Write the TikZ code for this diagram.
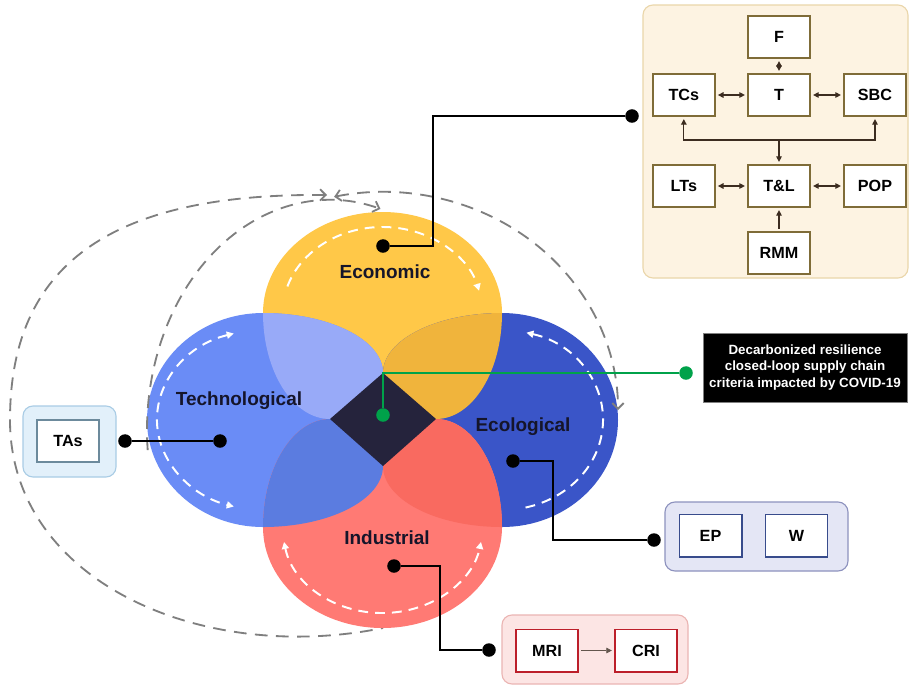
\documentclass[tikz,border=0pt]{standalone}
\usepackage{fontspec}
\setmainfont{Liberation Sans}
\usetikzlibrary{positioning, arrows.meta}

\definecolor{econcol}{HTML}{FFC848}
\definecolor{econeco}{HTML}{F0B43C}
\definecolor{techcol}{HTML}{6A8CF6}
\definecolor{techecon}{HTML}{98AAF8}
\definecolor{techind}{HTML}{5B7CE0}
\definecolor{ecocol}{HTML}{3A55C8}
\definecolor{indcol}{HTML}{FF7A74}
\definecolor{indeco}{HTML}{F96A60}
\definecolor{centrecol}{HTML}{25233C}
\definecolor{labelcol}{HTML}{15152A}
\definecolor{greenline}{HTML}{00A24A}
\definecolor{flowgrey}{HTML}{7F7F7F}
\definecolor{tanfill}{HTML}{FDF3E2}
\definecolor{tanline}{HTML}{EAD6AA}
\definecolor{tanbox}{HTML}{7F6C38}
\definecolor{tanarrow}{HTML}{3C2C20}
\definecolor{bluefill}{HTML}{E2F0FA}
\definecolor{blueline}{HTML}{A9CCE5}
\definecolor{bluebox}{HTML}{6C8A9C}
\definecolor{lilacfill}{HTML}{E4E6F5}
\definecolor{lilacline}{HTML}{8D92BE}
\definecolor{lilacbox}{HTML}{384C8C}
\definecolor{pinkfill}{HTML}{FCE5E4}
\definecolor{pinkline}{HTML}{EBB5B3}
\definecolor{pinkbox}{HTML}{BC1F2A}

% the four petals
\newcommand{\econpath}{(330,-419) arc[start angle=-90, end angle=-180, x radius=67, y radius=106] arc[start angle=180, end angle=0, x radius=119.5, y radius=101] arc[start angle=0, end angle=-90, x radius=66, y radius=106] -- cycle}
\newcommand{\techpath}{(383,-373) arc[start angle=0, end angle=90, x radius=120, y radius=60] arc[start angle=90, end angle=270, x radius=116, y radius=107] arc[start angle=270, end angle=360, x radius=120, y radius=61] -- cycle}
\newcommand{\ecopath}{(383,-373) arc[start angle=180, end angle=90, x radius=119, y radius=60] arc[start angle=90, end angle=-90, x radius=116, y radius=107] arc[start angle=-90, end angle=-180, x radius=119, y radius=61] -- cycle}
\newcommand{\indpath}{(330,-419) arc[start angle=90, end angle=180, x radius=67, y radius=108] arc[start angle=180, end angle=360, x radius=119.5, y radius=101] arc[start angle=0, end angle=90, x radius=66, y radius=108] -- cycle}

\begin{document}
\begin{tikzpicture}
    [x = 0.025cm, y = 0.025cm,
     point/.style = {circle, fill, inner sep = 3.4pt, outer sep = 0pt},
     link/.style = {line width = 1.4pt},
     petaltext/.style = {font = \bfseries\fontsize{13.5}{16}\selectfont, text = labelcol},
     critbox/.style = {draw, fill = white, line width = 1.4pt, minimum width = 1.55cm, minimum height = 1.05cm, font = \bfseries\fontsize{11.5}{13}\selectfont},
     panel/.style = {rounded corners = 0.25cm, line width = 0.8pt},
     flow/.style = {<->, >={Triangle[length=4pt, width=4pt]}, draw = tanarrow, line width = 0.8pt, shorten <= 1.5pt, shorten >= 1.5pt},
     whiteflow/.style = {draw = white, line width = 1.4pt, dash pattern = on 7pt off 5pt, >={Triangle[length=5pt, width=5pt]}},
     greyflow/.style = {draw = flowgrey, line width = 1.3pt, dash pattern = on 9pt off 6pt, >={Straight Barb[length=4pt, width=8pt]}}]
    \fill[white] (0,0) rectangle (912,-686);
    \useasboundingbox (0,0) rectangle (912,-686);

    % outer loop, behind the petals
    \draw[greyflow, <-] (327,-195) .. controls (110,-193) and (10,-265) .. (10,-420)
        .. controls (10,-580) and (200,-665) .. (383,-628);

    % petals and their overlaps
    \fill[econcol] \econpath;
    \fill[techcol] \techpath;
    \fill[ecocol] \ecopath;
    \fill[indcol] \indpath;
    \begin{scope}
        \clip \econpath;
        \fill[techecon] \techpath;
        \fill[econeco] \ecopath;
    \end{scope}
    \begin{scope}
        \clip \indpath;
        \fill[techind] \techpath;
        \fill[indeco] \ecopath;
    \end{scope}
    \fill[centrecol] (383,-373) -- (436,-419) -- (383,-466) -- (330,-419) -- cycle;

    % loops inside the petals
    \draw[whiteflow, ->] ([shift={(162:100 and 86)}]382.5,-313) arc[start angle=162, end angle=15, x radius=100, y radius=86];
    \draw[whiteflow, <->] ([shift={(106:106 and 90)}]263,-420) arc[start angle=106, end angle=254, x radius=106, y radius=90];
    \draw[whiteflow, <-] ([shift={(76:101 and 90)}]502,-420) arc[start angle=76, end angle=-80, x radius=101, y radius=90];
    \draw[whiteflow, <->] ([shift={(190:100 and 86)}]382.5,-527) arc[start angle=190, end angle=350, x radius=100, y radius=86];

    % loops round the petals
    \draw[greyflow, <->] ([shift={(102:235 and 218)}]383,-410) arc[start angle=102, end angle=0, x radius=235, y radius=218];
    \draw[greyflow, ->] ([shift={(185:183 and 230)}]330,-430) arc[start angle=185, end angle=74, x radius=183, y radius=230];

    \node[petaltext] (econ) at (385,-272) {Economic};
    \node[petaltext] (tech) at (239,-401) {Technological};
    \node[petaltext] (eco) at (523,-427) {Ecological};
    \node[petaltext] (ind) at (387,-538) {Industrial};

    % panels
    \draw[panel, fill = tanfill, draw = tanline] (643,-5) rectangle (908,-278);
    \draw[panel, fill = bluefill, draw = blueline] (23,-406) rectangle (116,-477);
    \draw[panel, fill = lilacfill, draw = lilacline] (665,-502) rectangle (848,-571);
    \draw[panel, fill = pinkfill, draw = pinkline] (502,-615) rectangle (688,-684);

    \node[critbox, draw = tanbox] (T) at (779,-95) {T};
    \node[critbox, draw = tanbox, above = 0.35cm of T] (F) {F};
    \node[critbox, draw = tanbox, left = 0.78cm of T] (TCs) {TCs};
    \node[critbox, draw = tanbox, right = 0.8cm of T] (SBC) {SBC};
    \node[critbox, draw = tanbox, below = 1.175cm of T] (TL) {T\&L};
    \node[critbox, draw = tanbox, left = 0.78cm of TL] (LTs) {LTs};
    \node[critbox, draw = tanbox, right = 0.8cm of TL] (POP) {POP};
    \node[critbox, draw = tanbox, below = 0.575cm of TL] (RMM) {RMM};
    \coordinate (bus) at (779,-140);
    \draw[flow] (F) -- (T);
    \draw[flow] (TCs) -- (T);
    \draw[flow] (T) -- (SBC);
    \draw[flow] (LTs) -- (TL);
    \draw[flow] (TL) -- (POP);
    \draw[flow] (TCs) |- (bus) -| (SBC);
    \draw[flow, ->, shorten <= 0pt] (bus) -- (TL);
    \draw[flow, ->] (RMM) -- (TL);

    \node[critbox, draw = bluebox] (TAs) at (68,-441) {TAs};
    \node[critbox, draw = lilacbox] (EP) at (710.5,-535.5) {EP};
    \node[critbox, draw = lilacbox, right = 0.55cm of EP] (W) {W};
    \node[critbox, draw = pinkbox] (MRI) at (547,-650.5) {MRI};
    \node[critbox, draw = pinkbox, right = 0.875cm of MRI] (CRI) {CRI};
    \draw[flow, ->, draw = tanarrow!80, line width = 0.6pt] (MRI) -- (CRI);

    \node[draw = gray, fill = black, text = white, align = center, font = \bfseries\fontsize{9.5}{11.5}\selectfont,
          minimum width = 5.1cm, minimum height = 1.72cm] (covid) at (805,-367.5)
          {Decarbonized resilience\\closed-loop supply chain\\criteria impacted by COVID-19};

    % connectors
    \node[point] (econdot) at (383,-246) {};
    \node[point] (econend) at (632,-116) {};
    \draw[link] (econdot) -- ++(50,0) |- (econend);
    \node[point] (techdot) at (220,-441) {};
    \node[point] (techend) at (125,-441) {};
    \draw[link] (techdot) -- (techend);
    \node[point] (ecodot) at (513,-461) {};
    \node[point] (ecoend) at (654,-540) {};
    \draw[link] (ecodot) -- ++(40,0) |- (ecoend);
    \node[point] (inddot) at (394,-566) {};
    \node[point] (indend) at (489,-650) {};
    \draw[link] (inddot) -- ++(46,0) |- (indend);
    \node[point, fill = greenline] (greendot) at (383,-415) {};
    \node[point, fill = greenline] (covidend) at (686,-373) {};
    \draw[link, greenline] (greendot) |- (covidend);
\end{tikzpicture}
\end{document}
